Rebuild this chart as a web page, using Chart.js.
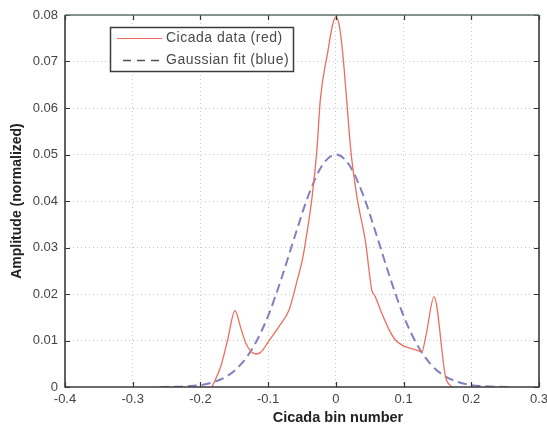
<!DOCTYPE html>
<html>
<head>
<meta charset="utf-8">
<script src="https://cdn.jsdelivr.net/npm/chart.js@4.4.1/dist/chart.umd.min.js"></script>
<style>
  html, body { margin: 0; padding: 0; background: #ffffff; }
  #wrap { width: 547px; height: 428px; position: relative; }
</style>
</head>
<body>
<div id="wrap"><canvas id="c" width="547" height="428"></canvas></div>
<script>
// ---- data ----
const redX = [-0.183, -0.17, -0.16, -0.149, -0.14, -0.133, -0.125, -0.118, -0.11, -0.1, -0.084, -0.069, -0.057, -0.05, -0.045, -0.035, -0.028, -0.023, -0.012, -0.005, 0, 0.005, 0.010, 0.016, 0.022, 0.031, 0.044, 0.053, 0.058, 0.068, 0.078, 0.088, 0.098, 0.108, 0.12, 0.127, 0.133, 0.145, 0.162, 0.171];
const redY = [0, 0.0044, 0.010, 0.0164, 0.0125, 0.0094, 0.0076, 0.0071, 0.0076, 0.0097, 0.013, 0.0166, 0.023, 0.027, 0.031, 0.041, 0.051, 0.0617, 0.072, 0.0778, 0.0796, 0.0778, 0.072, 0.0617, 0.051, 0.041, 0.031, 0.0209, 0.0195, 0.0158, 0.0125, 0.0101, 0.0090, 0.0084, 0.0079, 0.0076, 0.011, 0.0194, 0.0022, 0];

const blueX = [-0.26, -0.24, -0.22, -0.20, -0.18, -0.16, -0.14, -0.12, -0.10, -0.08, -0.06, -0.04, -0.02, 0, 0.02, 0.04, 0.06, 0.08, 0.10, 0.12, 0.14, 0.16, 0.18, 0.20, 0.22, 0.24, 0.26];
const blueY = [0, 0.00005, 0.00016, 0.0004, 0.0011, 0.0024, 0.0049, 0.0091, 0.0153, 0.0235, 0.0327, 0.0414, 0.0477, 0.05, 0.0477, 0.0414, 0.0327, 0.0235, 0.0153, 0.0091, 0.0049, 0.0024, 0.0011, 0.0004, 0.00016, 0.00005, 0];

const seriesNames = ["Cicada data (red)", "Gaussian fit (blue)"];

const xTickValues = [-0.4, -0.3, -0.2, -0.1, 0, 0.1, 0.2, 0.3];
const xTickLabels = ["-0.4", "-0.3", "-0.2", "-0.1", "0", "0.1", "0.2", "0.3"];
const yTickValues = [0, 0.01, 0.02, 0.03, 0.04, 0.05, 0.06, 0.07, 0.08];
const yTickLabels = ["0", "0.01", "0.02", "0.03", "0.04", "0.05", "0.06", "0.07", "0.08"];

const xTitle = "Cicada bin number";
const yTitle = "Amplitude (normalized)";

// ---- styling ----
const FONT = "'Liberation Sans', Arial, Helvetica, sans-serif";
const RED = "rgb(238,110,92)";
const BLUE = "rgb(128,128,192)";

const toPts = (xs, ys) => xs.map((x, i) => ({ x: x, y: ys[i] }));

const framePlugin = {
  id: 'frame',
  afterDatasetsDraw(chart) {
    const ctx = chart.ctx;
    const { left, right, top, bottom } = chart.chartArea;
    const xs = chart.scales.x, ys = chart.scales.y;
    ctx.save();
    // inward tick marks
    ctx.strokeStyle = '#333';
    ctx.lineWidth = 1.2;
    ctx.beginPath();
    xTickValues.forEach(v => {
      const p = Math.round(xs.getPixelForValue(v)) + 0.5;
      ctx.moveTo(p, bottom); ctx.lineTo(p, bottom - 5);
      ctx.moveTo(p, top); ctx.lineTo(p, top + 5);
    });
    yTickValues.forEach(v => {
      const p = Math.round(ys.getPixelForValue(v)) + 0.5;
      ctx.moveTo(left, p); ctx.lineTo(left + 5, p);
      ctx.moveTo(right, p); ctx.lineTo(right - 5, p);
    });
    ctx.stroke();
    // box
    ctx.lineWidth = 1.6;
    ctx.strokeStyle = '#3c3c3c';
    ctx.beginPath();
    ctx.moveTo(left, top); ctx.lineTo(left, bottom); ctx.lineTo(right, bottom); ctx.lineTo(right, top);
    ctx.stroke();
    ctx.strokeStyle = '#5f7268';
    ctx.beginPath();
    ctx.moveTo(left, top); ctx.lineTo(right, top);
    ctx.stroke();

    // legend
    const bx = 110, by = 27, bw = 183, bh = 44;
    ctx.fillStyle = '#ffffff';
    ctx.fillRect(bx, by, bw, bh);
    ctx.lineWidth = 1.5;
    ctx.strokeStyle = '#3c3c3c';
    ctx.strokeRect(bx + 0.5, by + 0.5, bw, bh);
    // red sample
    ctx.strokeStyle = RED; ctx.lineWidth = 1;
    ctx.beginPath(); ctx.moveTo(117, 38.5); ctx.lineTo(162, 38.5); ctx.stroke();
    // dashed sample
    ctx.strokeStyle = '#505050'; ctx.lineWidth = 1.5;
    ctx.setLineDash([8, 6]);
    ctx.beginPath(); ctx.moveTo(123, 60.5); ctx.lineTo(163, 60.5); ctx.stroke();
    ctx.setLineDash([]);
    ctx.fillStyle = '#4a4a4a';
    ctx.font = '14px ' + FONT;
    try { ctx.letterSpacing = '0.5px'; } catch (e) {}
    ctx.textBaseline = 'middle';
    ctx.textAlign = 'left';
    ctx.fillText(chart.data.datasets[0].label, 166, 38);
    ctx.fillText(chart.data.datasets[1].label, 166, 60);
    try { ctx.letterSpacing = '0px'; } catch (e) {}

    // x title
    ctx.fillStyle = '#222';
    ctx.font = 'bold 14.5px ' + FONT;
    ctx.textAlign = 'center';
    ctx.fillText(xTitle, 338, 418);
    ctx.restore();
  }
};

new Chart(document.getElementById('c'), {
  type: 'line',
  data: {
    datasets: [
      {
        label: seriesNames[0],
        data: toPts(redX, redY),
        borderColor: RED,
        borderWidth: 1.3,
        pointRadius: 0,
        cubicInterpolationMode: 'monotone',
        fill: false,
        order: 1
      },
      {
        label: seriesNames[1],
        data: toPts(blueX, blueY),
        borderColor: BLUE,
        borderWidth: 2,
        borderDash: [9, 5],
        pointRadius: 0,
        cubicInterpolationMode: 'monotone',
        fill: false,
        order: 2
      }
    ]
  },
  options: {
    responsive: false,
    animation: false,
    devicePixelRatio: 1,
    layout: { padding: { top: 15, right: 8, left: 0, bottom: 0 } },
    plugins: { legend: { display: false }, tooltip: { enabled: false } },
    scales: {
      x: {
        type: 'linear',
        min: -0.4, max: 0.3,
        afterBuildTicks: s => { s.ticks = xTickValues.map(v => ({ value: v })); },
        afterFit: s => { s.height = 41; s.paddingLeft = 0; s.paddingRight = 0; },
        ticks: {
          autoSkip: false, maxRotation: 0,
          padding: 5,
          color: '#444',
          font: { family: FONT, size: 13 },
          callback: (v, i) => xTickLabels[i]
        },
        grid: { color: '#c8c8c8', lineWidth: 1, drawTicks: false },
        border: { display: false, dash: [1, 3] },
        title: { display: false }
      },
      y: {
        type: 'linear',
        min: 0, max: 0.08,
        afterBuildTicks: s => { s.ticks = yTickValues.map(v => ({ value: v })); },
        afterFit: s => { s.width = 65; s.paddingTop = 0; s.paddingBottom = 0; },
        ticks: {
          autoSkip: false,
          padding: 7,
          color: '#444',
          font: { family: FONT, size: 13 },
          callback: (v, i) => yTickLabels[i]
        },
        grid: { color: '#c8c8c8', lineWidth: 1, drawTicks: false },
        border: { display: false, dash: [1, 3] },
        title: {
          display: true,
          text: yTitle,
          color: '#222',
          font: { family: FONT, size: 14, weight: 'bold' },
          padding: { top: 9, bottom: 0 }
        }
      }
    }
  },
  plugins: [framePlugin]
});
</script>
</body>
</html>
